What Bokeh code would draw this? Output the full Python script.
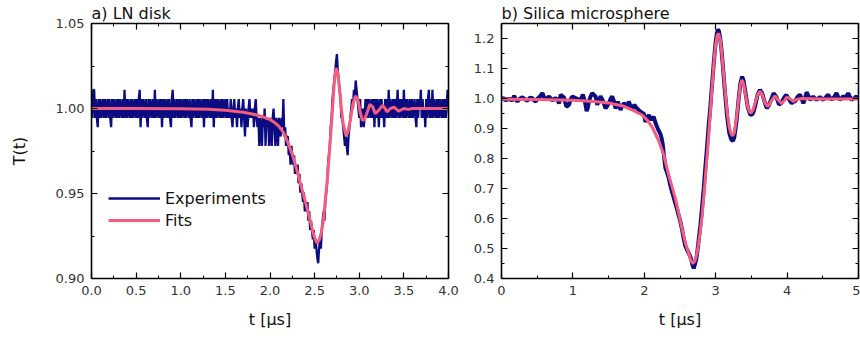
import numpy as np
from bokeh.plotting import figure
from bokeh.layouts import row
from bokeh.models import (LinearAxis, SingleIntervalTicker, NumeralTickFormatter,
                          CustomJSTickFormatter, Range1d, Legend, LegendItem)
from bokeh.embed import file_html
from bokeh.resources import INLINE

FONT = "DejaVu Sans"
NAVY = "#0c0c82"
PINK = "#f65c7e"
TXT = "#333333"

# ---------------- panel a) LN disk ----------------
a_title = "a) LN disk"
a_t_start = 0.0
a_t_step = 0.01
a_exp = [
    1.0055, 0.9945, 1.011, 1.011, 0.9945, 1.0055, 0.9945, 0.989, 1.0055, 0.9945,
    1.0055, 0.9945, 1.0, 1.0055, 0.9945, 1.0055, 0.9945, 1.0, 1.0055, 0.9945,
    1.0055, 0.9945, 0.989, 1.0055, 0.9945, 1.0055, 1.0, 0.9945, 1.0055, 0.9945,
    1.0055, 0.9945, 1.0055, 1.0, 0.9945, 1.0055, 0.9945, 1.011, 0.9945, 1.0055,
    0.9945, 1.0055, 1.0, 0.9945, 1.0055, 0.9945, 1.0055, 0.9945, 1.0, 1.0055,
    0.9945, 1.0055, 0.9945, 1.0055, 1.011, 0.989, 1.0055, 0.9945, 1.0055, 1.0,
    0.9945, 1.0055, 0.9945, 0.989, 1.0055, 0.9945, 1.0055, 1.0, 0.9945, 1.0055,
    0.9945, 1.011, 0.9945, 1.0055, 1.0, 0.9945, 1.0055, 0.9945, 1.0055, 0.989,
    1.0055, 0.9945, 1.0055, 1.0, 0.9945, 1.0055, 0.9945, 1.0055, 0.9945, 0.989,
    1.0055, 1.011, 0.9945, 1.0055, 0.9945, 1.0, 1.0055, 0.9945, 1.0055, 0.9945,
    1.0055, 0.9945, 1.0, 1.0055, 0.9945, 1.0055, 0.9945, 1.0055, 1.0, 0.9945,
    1.0055, 0.9945, 0.989, 1.0055, 0.9945, 1.0055, 1.0, 0.9945, 1.0055, 0.9945,
    1.0055, 0.9945, 1.0055, 1.0, 0.9945, 1.0055, 0.989, 1.0055, 0.9945, 1.0055,
    0.9945, 1.0055, 1.0, 0.9945, 1.0055, 0.9945, 1.011, 0.989, 1.0055, 0.9945,
    1.0055, 0.9945, 1.0055, 1.0, 0.9945, 1.0055, 0.9945, 1.0055, 0.9945, 1.0,
    1.0055, 0.9945, 1.0055, 0.9945, 1.0, 0.9945, 1.0055, 0.9945, 0.989, 1.0,
    1.0055, 0.9945, 1.0, 0.989, 1.0, 1.0055, 0.9945, 1.0, 0.989, 1.0,
    1.0055, 0.9945, 0.9835, 1.0, 0.9945, 0.989, 1.0, 1.0055, 0.9945, 1.0,
    0.9945, 1.0, 0.989, 1.0, 1.0055, 0.9945, 0.989, 0.9945, 0.978, 0.9945,
    0.989, 0.978, 0.9945, 0.989, 1.0, 0.978, 0.9945, 0.989, 0.9945, 0.978,
    0.9945, 0.989, 0.978, 0.9945, 1.0, 0.989, 0.978, 0.9945, 0.989, 0.978,
    0.9945, 0.989, 0.9835, 0.9945, 0.989, 1.0055, 0.9835, 0.989, 0.978, 0.9835,
    0.9835, 0.9725, 0.978, 0.967, 0.978, 0.9725, 0.967, 0.9725, 0.9615, 0.967,
    0.9615, 0.967, 0.956, 0.9615, 0.9505, 0.956, 0.9505, 0.945, 0.9505, 0.9395,
    0.945, 0.9395, 0.945, 0.934, 0.9395, 0.9285, 0.934, 0.9285, 0.923, 0.9285,
    0.9175, 0.923, 0.9175, 0.912, 0.909, 0.9175, 0.923, 0.9175, 0.9285, 0.934,
    0.9395, 0.934, 0.945, 0.9505, 0.956, 0.967, 0.9725, 0.978, 0.989, 0.9945,
    1.0055, 1.011, 1.0165, 1.022, 1.0275, 1.032, 1.022, 1.0165, 1.011, 1.0055,
    0.9945, 0.9945, 0.989, 0.9835, 0.978, 0.9835, 0.978, 0.9725, 0.9835, 0.989,
    0.9945, 1.0, 1.0055, 1.0, 1.011, 1.0055, 1.0165, 1.011, 1.0055, 1.0,
    0.9945, 1.0055, 0.989, 0.9945, 1.0, 0.989, 0.9945, 1.0055, 0.9945, 1.0055,
    0.9945, 1.0055, 1.0, 0.9945, 1.0055, 0.9945, 1.0055, 0.989, 1.0055, 0.9945,
    1.0055, 1.0, 0.989, 1.0055, 0.9945, 1.0055, 0.9945, 1.0, 0.989, 1.0055,
    0.9945, 1.0055, 0.9945, 1.011, 0.9945, 1.0055, 1.0, 0.9945, 1.0055, 0.9945,
    1.0055, 0.9945, 1.0, 1.011, 0.9945, 1.0055, 0.9945, 1.0055, 1.0, 0.9945,
    1.011, 0.9945, 1.0055, 0.9945, 1.0055, 1.0, 0.9945, 1.0055, 0.9945, 1.0055,
    0.9945, 1.0, 1.0055, 0.9945, 0.989, 1.0055, 0.9945, 1.0055, 1.0, 1.011,
    0.9945, 1.0055, 0.9945, 1.0, 0.989, 1.0055, 0.9945, 1.0055, 1.011, 0.9945,
    1.0055, 0.9945, 1.011, 0.9945, 1.0055, 1.0, 0.9945, 1.0055, 0.9945, 1.0055,
    0.9945, 1.0055, 1.0, 0.9945, 1.0055, 0.9945, 1.0055, 0.9945, 1.0, 1.011,
    1.0055,
]
a_fit_t = [0, 0.5, 1.0, 1.3, 1.5, 1.7, 1.8, 1.9, 2.0, 2.05, 2.1, 2.15, 2.2, 2.25,
           2.3, 2.35, 2.4, 2.45, 2.48, 2.5, 2.525, 2.55, 2.575, 2.6, 2.65, 2.7,
           2.72, 2.74, 2.76, 2.78, 2.8, 2.82, 2.85, 2.87, 2.9, 2.93, 2.96, 2.99,
           3.01, 3.035, 3.06, 3.09, 3.12, 3.15, 3.18, 3.22, 3.26, 3.29, 3.31,
           3.35, 3.39, 3.44, 3.5, 3.55, 3.6, 4.0]
a_fit_v = [1.0, 1.0, 0.9998, 0.9995, 0.999, 0.9978, 0.9968, 0.9955, 0.9935,
           0.9918, 0.9895, 0.986, 0.980, 0.973, 0.964, 0.954, 0.9445, 0.934,
           0.9275, 0.924, 0.921, 0.9225, 0.927, 0.935, 0.963, 0.999, 1.015,
           1.0238, 1.021, 1.011, 1.0, 0.991, 0.9845, 0.9855, 0.993, 1.003,
           1.0075, 1.004, 0.998, 0.993, 0.9935, 0.998, 1.0025, 1.001, 0.997,
           0.999, 1.0018, 1.0, 0.998, 1.0, 1.0008, 0.9985, 1.0, 0.9995, 1.0, 1.0]
a_xticks = (0.0, 4.0, 0.5)
a_yticks = (0.90, 1.05, 0.05)

# ---------------- panel b) Silica microsphere ----------------
b_title = "b) Silica microsphere"
b_exp_t = [0.0, 0.03, 0.056, 0.08, 0.102, 0.125, 0.149, 0.177, 0.2, 0.223, 0.26,
           0.293, 0.33, 0.363, 0.4, 0.433, 0.455, 0.48, 0.505, 0.526, 0.55,
           0.573, 0.6, 0.62, 0.645, 0.666, 0.69, 0.713, 0.735, 0.759, 0.785,
           0.806, 0.829, 0.85, 0.875, 0.89, 0.908, 0.925, 0.945, 0.97, 0.992,
           1.015, 1.038, 1.07, 1.108, 1.14, 1.168, 1.192, 1.21, 1.224, 1.25,
           1.271, 1.295, 1.317, 1.341, 1.365, 1.387, 1.405, 1.425, 1.457, 1.48,
           1.504, 1.53, 1.55, 1.575, 1.597, 1.615, 1.63, 1.65, 1.667, 1.69,
           1.713, 1.74, 1.76, 1.783, 1.805, 1.829, 1.845, 1.862, 1.88, 1.899,
           1.92, 1.946, 1.97, 1.992, 2.016, 2.04, 2.063, 2.08, 2.1, 2.115,
           2.132, 2.155, 2.179, 2.2, 2.225, 2.24, 2.258, 2.275, 2.295, 2.32,
           2.342, 2.365, 2.388, 2.41, 2.435, 2.46, 2.481, 2.505, 2.528, 2.55,
           2.575, 2.6, 2.621, 2.64, 2.659, 2.675, 2.692, 2.71, 2.725, 2.738,
           2.76, 2.785, 2.81, 2.832, 2.855, 2.878, 2.9, 2.925, 2.95, 2.975,
           3.0, 3.015, 3.03, 3.045, 3.06, 3.08, 3.1, 3.13, 3.16, 3.19, 3.215,
           3.24, 3.26, 3.29, 3.32, 3.345, 3.37, 3.39, 3.42, 3.45, 3.48, 3.505,
           3.53, 3.555, 3.585, 3.62, 3.65, 3.69, 3.715, 3.74, 3.78, 3.81, 3.85,
           3.887, 3.92, 3.96, 3.99, 4.02, 4.064, 4.09, 4.111, 4.145, 4.18,
           4.205, 4.227, 4.25, 4.273, 4.3, 4.32, 4.345, 4.366, 4.39, 4.413,
           4.435, 4.459, 4.48, 4.506, 4.54, 4.576, 4.6, 4.622, 4.66, 4.692,
           4.715, 4.738, 4.76, 4.785, 4.82, 4.855, 4.88, 4.901, 4.94, 4.971, 5.0]
b_exp_v = [0.998, 1.002, 0.993, 0.999, 0.996, 1.0, 0.992, 1.009, 0.998, 0.99,
           1.0, 1.004, 0.997, 0.993, 1.003, 1.001, 0.994, 0.99, 1.0, 1.004,
           1.01, 1.018, 1.002, 0.996, 1.002, 1.007, 1.0, 0.993, 0.998, 1.001,
           0.995, 0.984, 1.013, 1.008, 1.004, 0.99, 0.973, 0.975, 0.979, 0.998,
           1.007, 1.004, 1.001, 0.998, 0.996, 1.013, 0.99, 0.958, 0.97, 0.99,
           1.008, 1.018, 1.012, 1.007, 0.979, 0.995, 1.007, 1.0, 0.99, 0.967,
           0.975, 0.984, 1.0, 1.007, 0.99, 0.967, 0.978, 0.99, 0.975, 0.962,
           0.975, 0.984, 0.978, 0.973, 0.99, 0.975, 0.962, 0.972, 0.979, 0.972,
           0.967, 0.962, 0.956, 0.952, 0.95, 0.922, 0.935, 0.945, 0.936, 0.928,
           0.934, 0.939, 0.92, 0.905, 0.894, 0.882, 0.87, 0.848, 0.81, 0.769,
           0.752, 0.735, 0.71, 0.689, 0.672, 0.65, 0.63, 0.61, 0.59, 0.564,
           0.535, 0.508, 0.495, 0.485, 0.475, 0.462, 0.445, 0.434, 0.448, 0.462,
           0.479, 0.525, 0.576, 0.64, 0.70, 0.77, 0.837, 0.905, 0.973, 1.05,
           1.125, 1.19, 1.215, 1.23, 1.225, 1.205, 1.165, 1.11, 1.02, 0.94,
           0.885, 0.865, 0.858, 0.87, 0.92, 0.995, 1.05, 1.073, 1.06, 1.015,
           0.97, 0.948, 0.945, 0.955, 0.978, 1.012, 1.029, 1.018, 0.985, 0.968,
           0.975, 0.998, 1.018, 1.005, 0.98, 0.985, 1.004, 1.012, 1.0, 0.984,
           0.99, 0.99, 1.005, 1.013, 0.998, 0.984, 1.0, 1.021, 1.008, 0.996,
           1.0, 1.007, 1.0, 0.996, 1.0, 1.005, 1.0, 0.996, 1.004, 1.013, 1.002,
           0.996, 1.005, 1.018, 1.005, 0.996, 1.0, 1.007, 1.003, 1.018, 1.005,
           0.996, 1.001, 1.007, 0.998]
b_fit_t = [0, 0.5, 1.0, 1.3, 1.5, 1.7, 1.83, 1.97, 2.04, 2.11, 2.2, 2.27, 2.34,
           2.435, 2.53, 2.58, 2.62, 2.65, 2.68, 2.71, 2.74, 2.78, 2.81, 2.85,
           2.9, 2.95, 2.98, 3.0, 3.02, 3.04, 3.06, 3.08, 3.1, 3.13, 3.16, 3.19,
           3.215, 3.236, 3.26, 3.29, 3.32, 3.345, 3.366, 3.39, 3.42, 3.45,
           3.475, 3.496, 3.52, 3.55, 3.585, 3.62, 3.65, 3.69, 3.73, 3.78, 3.83,
           3.875, 3.925, 3.96, 4.0, 4.045, 4.09, 4.13, 4.2, 4.5, 5.0]
b_fit_v = [0.998, 0.997, 0.994, 0.99, 0.985, 0.975, 0.962, 0.945, 0.928, 0.905,
           0.86, 0.814, 0.746, 0.667, 0.564, 0.515, 0.485, 0.462, 0.45, 0.458,
           0.485, 0.55, 0.61, 0.72, 0.871, 1.04, 1.135, 1.18, 1.21, 1.217, 1.20,
           1.165, 1.11, 1.03, 0.955, 0.905, 0.882, 0.876, 0.885, 0.93, 0.995,
           1.045, 1.062, 1.05, 1.01, 0.972, 0.955, 0.952, 0.96, 0.983, 1.012,
           1.024, 1.015, 0.985, 0.973, 0.992, 1.009, 0.995, 0.983, 0.993, 1.005,
           0.998, 0.99, 0.997, 1.0, 0.998, 0.998]
b_xticks = (0.0, 5.0, 1.0)
b_yticks = (0.40, 1.25, 0.1)

x_label = "t [μs]"
y_label = "T(t)"
legend_labels = ["Experiments", "Fits"]


def style_axis(ax, interval, fmt, show_labels=True):
    ax.ticker = SingleIntervalTicker(interval=interval, num_minor_ticks=2)
    ax.axis_line_color = "black"
    ax.axis_line_width = 1.6
    ax.major_tick_in = 6
    ax.major_tick_out = 0
    ax.minor_tick_in = 3
    ax.minor_tick_out = 0
    ax.major_tick_line_color = "black"
    ax.minor_tick_line_color = "black"
    ax.major_tick_line_width = 1.2
    ax.minor_tick_line_width = 1.0
    ax.major_label_text_font = FONT
    ax.major_label_text_color = TXT
    ax.axis_label_text_font = FONT
    ax.axis_label_text_font_style = "normal"
    ax.axis_label_text_color = "#111111"
    ax.axis_label_text_font_size = "16px"
    ax.major_label_text_font_size = "13px"
    if show_labels:
        ax.formatter = NumeralTickFormatter(format=fmt)
        ax.major_label_standoff = 7
    else:
        # mirror axis: ticks only, no labels
        ax.formatter = CustomJSTickFormatter(code="return ''")
        ax.major_label_standoff = 0


def make_panel(title, xr, yr, xfmt, yfmt, width, bl, br, ylab):
    p = figure(width=width, height=335, x_range=Range1d(xr[0], xr[1]),
               y_range=Range1d(yr[0], yr[1]), output_backend="svg",
               toolbar_location=None, min_border_left=bl, min_border_right=br,
               min_border_top=20, min_border_bottom=57)
    p.grid.visible = False
    p.outline_line_color = None
    p.background_fill_color = "white"
    p.title.text = title
    p.title.text_font = FONT
    p.title.text_font_size = "16px"
    p.title.text_font_style = "normal"
    p.title.text_color = "#111111"
    p.title.align = "left"
    p.title.standoff = 2
    style_axis(p.xaxis[0], xr[2], xfmt)
    style_axis(p.yaxis[0], yr[2], yfmt)
    p.xaxis[0].axis_label = x_label
    p.xaxis[0].axis_label_standoff = 12
    if ylab:
        p.yaxis[0].axis_label = ylab
        p.yaxis[0].axis_label_standoff = 24
    top = LinearAxis()
    style_axis(top, xr[2], xfmt, show_labels=False)
    p.add_layout(top, "above")
    right = LinearAxis()
    style_axis(right, yr[2], yfmt, show_labels=False)
    p.add_layout(right, "right")
    return p


# panel a
a_t = [a_t_start + i * a_t_step for i in range(len(a_exp))]
pa = make_panel(a_title, a_xticks, a_yticks, "0.0", "0.00", 470, 91, 22, y_label)
ra = pa.line(a_t, a_exp, line_color=NAVY, line_width=2.3, line_join="bevel")
rf = pa.line(a_fit_t, a_fit_v, line_color=PINK, line_width=3)
leg = Legend(items=[LegendItem(label=legend_labels[0], renderers=[ra]),
                    LegendItem(label=legend_labels[1], renderers=[rf])],
             location=(17, 48), orientation="vertical")
leg.background_fill_alpha = 0
leg.border_line_color = None
leg.label_text_font = FONT
leg.label_text_font_size = "16px"
leg.label_text_color = "#111111"
leg.glyph_width = 52
leg.glyph_height = 20
leg.label_height = 20
leg.label_standoff = 5
leg.spacing = 2
leg.padding = 0
leg.margin = 0
pa.add_layout(leg)

# panel b
pb = make_panel(b_title, b_xticks, b_yticks, "0", "0.0", 390, 29, 2, None)
pb.line(b_exp_t, b_exp_v, line_color=NAVY, line_width=4)
pb.line(b_fit_t, b_fit_v, line_color=PINK, line_width=3)

layout = row(pa, pb)
open("out.html", "w").write(file_html(layout, INLINE))
